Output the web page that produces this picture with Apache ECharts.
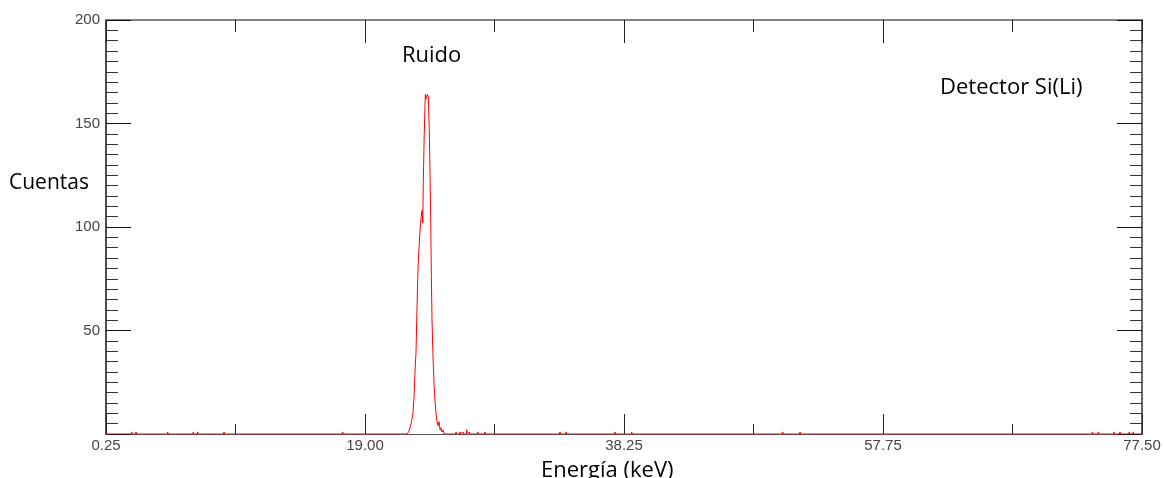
<!DOCTYPE html>
<html>
<head>
<meta charset="utf-8">
<script src="https://cdn.jsdelivr.net/npm/echarts@6/dist/echarts.min.js"></script>
<style>
html,body{margin:0;padding:0;background:#fff;}
#chart{width:1164px;height:478px;}
</style>
</head>
<body>
<div id="chart"></div>
<script>
// ---- data (energy in keV, counts) ----
const energy = [
  0.25,
  2.13, 2.17, 2.21,
  2.45, 2.49, 2.53,
  4.81, 4.85, 4.89,
  6.72, 6.76, 6.80,
  7.05, 7.09, 7.13,
  9.01, 9.05, 9.09,
  17.86, 17.90, 17.94,
  22.69, 22.81, 22.92, 23.03, 23.14, 23.22, 23.29, 23.37, 23.42, 23.48,
  23.54, 23.59, 23.66, 23.74, 23.81, 23.87, 23.91, 23.98, 24.06, 24.13,
  24.21, 24.28, 24.36, 24.41, 24.46, 24.51, 24.56, 24.63, 24.71, 24.78,
  24.86, 24.93, 25.01, 25.08, 25.16, 25.23, 25.30, 25.38, 25.45,
  26.31, 26.35, 26.39,
  26.61, 26.65, 26.69,
  26.83, 26.87, 26.91,
  27.11, 27.15, 27.19,
  27.30, 27.34, 27.38,
  27.93, 27.97, 28.01,
  28.47, 28.51, 28.55,
  34.06, 34.10, 34.14,
  34.51, 34.55, 34.59,
  38.16, 38.20, 38.24,
  39.41, 39.45, 39.49,
  50.67, 50.71, 50.75,
  51.96, 52.00, 52.04,
  73.76, 73.80, 73.84,
  74.20, 74.24, 74.28,
  75.37, 75.41, 75.45,
  75.82, 75.86, 75.90,
  76.51, 76.55, 76.59,
  76.81, 76.85, 76.89,
  77.50
];
const counts = [
  0,
  0, 1, 0,
  0, 1, 0,
  0, 1, 0,
  0, 1, 0,
  0, 1, 0,
  0, 1, 0,
  0, 1, 0,
  0, 1, 3, 6, 10, 18, 30, 40, 55, 72,
  84, 90, 98, 104, 108, 102, 122, 145, 164, 162,
  164, 163, 146, 126, 105, 76, 55, 38, 24, 16,
  10, 6, 4, 6, 2, 3, 1, 2, 0,
  0, 1, 0,
  0, 1, 0,
  0, 1, 0,
  0, 2, 0,
  0, 1, 0,
  0, 1, 0,
  0, 1, 0,
  0, 1, 0,
  0, 1, 0,
  0, 1, 0,
  0, 1, 0,
  0, 1, 0,
  0, 1, 0,
  0, 1, 0,
  0, 1, 0,
  0, 1, 0,
  0, 1, 0,
  0, 1, 0,
  0, 1, 0,
  0
];
const xTickLabels = ['0.25', '19.00', '38.25', '57.75', '77.50'];
const yTickLabels = ['', '50', '100', '150', '200'];
const xName = 'Energía (keV)';
const yName = 'Cuentas';
const peakLabel = 'Ruido';
const detectorLabel = 'Detector Si(Li)';

// ---- layout ----
const X_MIN = 0.25, X_MAX = 77.5;
const nDiv = xTickLabels.length - 1;
const majorPos = xTickLabels.map((_, i) => X_MIN + i * (X_MAX - X_MIN) / nDiv);
const minorPos = [];
for (let i = 0; i < nDiv; i++) minorPos.push((majorPos[i] + majorPos[i + 1]) / 2);

const seriesData = energy.map((e, i) => [e, counts[i]]);

const labelFont = { color: '#444', fontSize: 15, fontFamily: 'Liberation Sans, Arial, sans-serif' };
const textFont = 'Open Sans, Noto Sans, sans-serif';

function xAxisDef(position, ticks, len, showLine, showLabel) {
  return {
    type: 'value', min: X_MIN, max: X_MAX, position: position,
    axisLine: { show: showLine, onZero: false, lineStyle: { color: position === 'top' ? '#808080' : '#555', width: position === 'top' ? 2 : 1 } },
    axisTick: { show: true, inside: true, length: len, customValues: ticks, lineStyle: { color: '#222', width: 1 } },
    axisLabel: showLabel ? Object.assign({
      show: true, customValues: ticks, margin: 4,
      formatter: function (v) {
        for (let i = 0; i < majorPos.length; i++) if (Math.abs(majorPos[i] - v) < 1e-6) return xTickLabels[i];
        return '';
      }
    }, labelFont) : { show: false },
    splitLine: { show: false }, minorTick: { show: false }
  };
}

function yAxisDef(position, showLabel) {
  return {
    type: 'value', min: 0, max: 200, interval: 50, position: position,
    axisLine: { show: true, onZero: false, lineStyle: { color: position === 'left' ? '#111' : '#666', width: position === 'left' ? 1.5 : 2 } },
    axisTick: { show: true, inside: true, length: 25, lineStyle: { color: '#111', width: 1 } },
    minorTick: { show: true, splitNumber: 10, length: 12, lineStyle: { color: '#333', width: 1 } },
    axisLabel: showLabel ? Object.assign({
      show: true, margin: 6, showMinLabel: true,
      formatter: function (v) { return yTickLabels[Math.round(v / 50)]; }
    }, labelFont) : { show: false },
    splitLine: { show: false }, minorSplitLine: { show: false }
  };
}

const chart = echarts.init(document.getElementById('chart'), null, { renderer: 'canvas' });
chart.setOption({
  animation: false,
  backgroundColor: '#ffffff',
  grid: { left: 106, right: 22, top: 20, bottom: 44, containLabel: false },
  xAxis: [
    xAxisDef('bottom', majorPos, 20, true, true),
    xAxisDef('bottom', minorPos, 10, false, false),
    xAxisDef('top', majorPos, 23, true, false),
    xAxisDef('top', minorPos, 12, false, false)
  ],
  yAxis: [
    yAxisDef('left', true),
    yAxisDef('right', false)
  ],
  series: [{
    type: 'line',
    xAxisIndex: 0, yAxisIndex: 0,
    data: seriesData,
    showSymbol: false, symbol: 'none',
    lineStyle: { color: '#ff0000', width: 1 },
    z: 10
  }],
  graphic: [
    { type: 'text', left: 9, top: 173, style: { text: yName, font: '21px ' + textFont, fill: '#000' } },
    { type: 'text', left: 541, top: 460, style: { text: xName, font: '22px ' + textFont, fill: '#000' } },
    { type: 'text', left: 402, top: 45, style: { text: peakLabel, font: '22px ' + textFont, fill: '#000' } },
    { type: 'text', left: 940, top: 77, style: { text: detectorLabel, font: '22px ' + textFont, fill: '#000' } }
  ]
});
</script>
</body>
</html>
